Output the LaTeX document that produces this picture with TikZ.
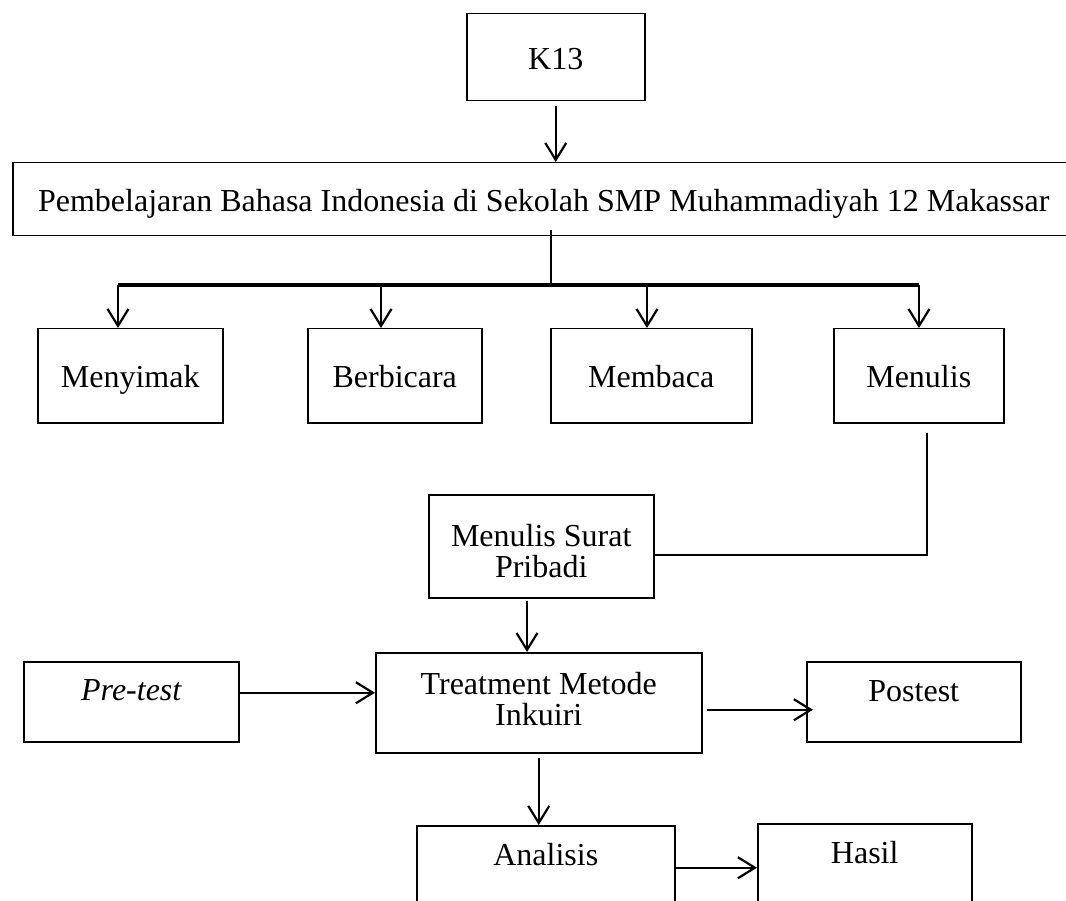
\documentclass[tikz,border=0pt]{standalone}
\usepackage{fontspec}
\setmainfont{Liberation Serif}
\usetikzlibrary{arrows.meta,positioning}

\tikzset{
  box/.style={draw, line width=1.5pt, inner sep=0pt, anchor=north west,
    font=\fontsize{32}{31}\selectfont},
  link/.style={line width=2.2pt},
  flow/.style={line width=2.2pt, line join=round,
    -{Straight Barb[length=17pt,width=21pt]}},
}

\begin{document}
\begin{tikzpicture}[x=1pt,y=-1pt]
  \useasboundingbox (0,0) rectangle (1066,901);
  \clip (0,0) rectangle (1066,901);
  \node[box, minimum width=178pt, text height=56pt, text depth=31pt] (k13) at (466,13) {K13};
  \node[box, minimum width=1062pt, text height=49pt, text depth=24pt] (main) at (12,162)
    {Pembelajaran Bahasa Indonesia di Sekolah SMP Muhammadiyah 12 Makassar};
  \node[box, minimum width=185pt, text height=59pt, text depth=35pt] (simak) at (37,328) {Menyimak};
  \node[box, minimum width=174pt, text height=59pt, text depth=35pt] (bicara) at (307,328) {Berbicara};
  \node[box, minimum width=201pt, text height=59pt, text depth=35pt] (baca) at (550,328) {Membaca};
  \node[box, minimum width=170pt, text height=59pt, text depth=35pt] (tulis) at (833,328) {Menulis};
  \node[box, minimum width=225pt, text height=83pt, text depth=20pt, align=center] (surat) at (428,494)
    {Menulis Surat\\Pribadi};
  \node[box, minimum width=215pt, text height=39pt, text depth=41pt] (pre) at (23,661) {\itshape Pre-test};
  \node[box, minimum width=326pt, text height=73pt, text depth=27pt, align=center] (treat) at (375,652)
    {Treatment Metode\\Inkuiri};
  \node[box, minimum width=214pt, text height=40pt, text depth=40pt] (post) at (806,661) {Postest};
  \node[box, minimum width=258pt, text height=40pt, text depth=70pt] (ana) at (416,825) {Analisis};
  \node[box, minimum width=214pt, text height=40pt, text depth=70pt] (hasil) at (757,823) {Hasil};

  % bus below the main box
  \coordinate (hub) at (551,285);
  \coordinate (b1) at (118,285);
  \coordinate (b2) at (381,285);
  \coordinate (b3) at (647,285);
  \coordinate (b4) at (919,285);
  \coordinate (elbow) at (927,555);
  \coordinate (sdrop) at (527,601);

  \draw[flow] ([yshift=-5pt]k13.south) -- (k13.south |- main.north);
  \draw[link] ([yshift=6pt]main.south -| hub) -- (hub);
  \draw[line width=3.2pt] (b1) -- (b4);
  \draw[flow] (b1) -- (b1 |- simak.north);
  \draw[flow] (b2) -- (b2 |- bicara.north);
  \draw[flow] (b3) -- (b3 |- baca.north);
  \draw[flow] (b4) -- (b4 |- tulis.north);
  \draw[link] ([yshift=-9pt]tulis.south -| elbow) -- (elbow) -- (elbow -| surat.east);
  \draw[flow] (sdrop) -- (sdrop |- treat.north);
  \draw[flow] ([yshift=8pt]pre.base east) -- ([yshift=8pt]pre.base east -| treat.west);
  \draw[flow] ([xshift=4pt,yshift=-7pt]treat.east) -- ([xshift=7pt,yshift=-7pt]treat.east -| post.west);
  \draw[flow] ([yshift=-4pt]treat.south) -- (treat.south |- ana.north);
  \draw[flow] ([yshift=-2pt]ana.base east) -- ([yshift=-2pt]ana.base east -| hasil.west);
\end{tikzpicture}
\end{document}
